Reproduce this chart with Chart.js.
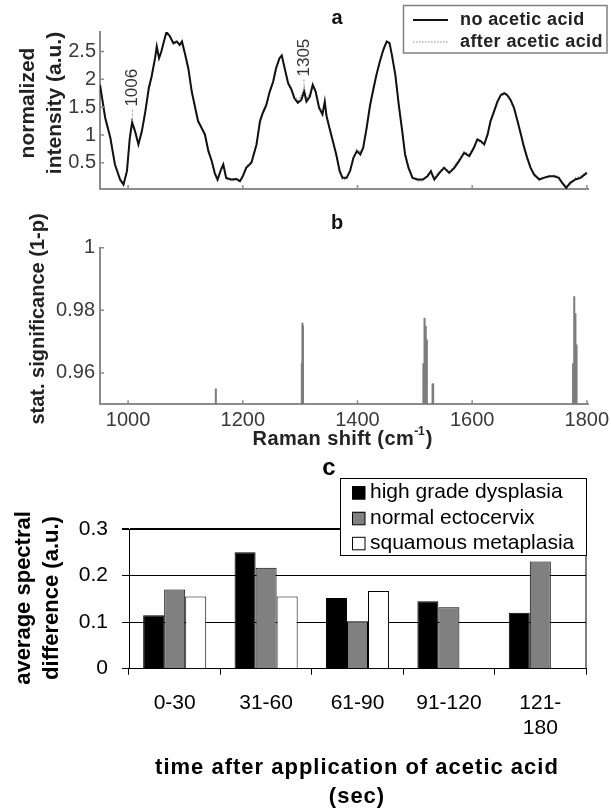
<!DOCTYPE html>
<html><head><meta charset="utf-8">
<script src="https://cdn.jsdelivr.net/npm/chart.js@4.4.1/dist/chart.umd.min.js"></script>
<style>
html,body{margin:0;padding:0;background:#fff;}
#wrap{position:relative;width:611px;height:811px;overflow:hidden;background:#fff;}
canvas{position:absolute;left:0;}
</style></head><body>
<div id="wrap">
<canvas id="ca" width="611" height="200" style="top:0;width:611px;height:200px"></canvas>
<canvas id="cb" width="611" height="250" style="top:200px;width:611px;height:250px"></canvas>
<canvas id="cc" width="611" height="361" style="top:450px;width:611px;height:361px"></canvas>
</div>
<script>
// ---------- Panel a: Raman spectra ----------
const ramanShift = [
  951, 960, 969, 977, 986, 992, 998, 1003, 1007, 1012,
  1018, 1024, 1030, 1036, 1041, 1047, 1050, 1054, 1058, 1064,
  1067, 1073, 1079, 1085, 1090, 1094, 1099, 1105, 1111, 1117,
  1122, 1128, 1134, 1140, 1146, 1151, 1156, 1162, 1166, 1171,
  1180, 1189, 1195, 1200, 1206, 1215, 1224, 1230, 1235, 1241,
  1247, 1253, 1258, 1264, 1268, 1273, 1279, 1285, 1290, 1296,
  1302, 1307, 1311, 1317, 1322, 1327, 1333, 1339, 1343, 1346,
  1351, 1357, 1363, 1369, 1374, 1381, 1387, 1393, 1399, 1405,
  1410, 1416, 1422, 1428, 1433, 1439, 1445, 1451, 1456, 1460,
  1466, 1472, 1478, 1483, 1489, 1496, 1505, 1514, 1522, 1528,
  1534, 1543, 1551, 1560, 1569, 1577, 1586, 1595, 1603, 1609,
  1615, 1621, 1627, 1632, 1638, 1644, 1650, 1656, 1661, 1667,
  1673, 1679, 1685, 1690, 1696, 1702, 1708, 1717, 1725, 1734,
  1743, 1751, 1757, 1764, 1771, 1780, 1789, 1800
];
const noAceticAcid = [
  1.90, 1.31, 0.95, 0.47, 0.20, 0.11, 0.35, 0.95, 1.22, 1.07,
  0.83, 1.07, 1.42, 1.84, 2.05, 2.38, 2.59, 2.38, 2.50, 2.74,
  2.85, 2.77, 2.65, 2.68, 2.62, 2.68, 2.47, 2.20, 1.78, 1.49,
  1.25, 1.13, 1.01, 0.71, 0.53, 0.32, 0.20, 0.38, 0.47, 0.23,
  0.20, 0.21, 0.17, 0.26, 0.41, 0.50, 0.83, 1.25, 1.40, 1.54,
  1.78, 1.96, 2.20, 2.38, 2.43, 2.20, 1.93, 1.81, 1.66, 1.58,
  1.63, 1.78, 1.60, 1.69, 1.90, 1.78, 1.49, 1.37, 1.60, 1.34,
  1.13, 0.89, 0.65, 0.35, 0.23, 0.23, 0.35, 0.59, 0.71, 0.65,
  0.77, 1.13, 1.54, 1.84, 2.08, 2.32, 2.53, 2.68, 2.65, 2.44,
  2.08, 1.54, 1.07, 0.65, 0.41, 0.23, 0.20, 0.20, 0.26, 0.35,
  0.20, 0.32, 0.41, 0.32, 0.41, 0.53, 0.68, 0.62, 0.77, 0.92,
  0.89, 0.83, 1.01, 1.25, 1.42, 1.60, 1.72, 1.75, 1.72, 1.63,
  1.49, 1.25, 1.01, 0.80, 0.59, 0.41, 0.29, 0.20, 0.23, 0.26,
  0.26, 0.23, 0.14, 0.05, 0.14, 0.20, 0.23, 0.32
];
const afterAceticAcid = [
  1.94, 1.35, 0.97, 0.50, 0.22, 0.13, 0.38, 1.00, 1.28, 1.10,
  0.85, 1.05, 1.40, 1.80, 2.03, 2.35, 2.55, 2.40, 2.52, 2.72,
  2.83, 2.78, 2.62, 2.66, 2.60, 2.65, 2.45, 2.17, 1.76, 1.47,
  1.23, 1.15, 0.98, 0.74, 0.50, 0.30, 0.16, 0.36, 0.45, 0.21,
  0.18, 0.20, 0.15, 0.24, 0.44, 0.52, 0.86, 1.22, 1.38, 1.52,
  1.76, 1.94, 2.17, 2.36, 2.40, 2.22, 1.96, 1.84, 1.70, 1.62,
  1.70, 1.86, 1.66, 1.74, 1.92, 1.80, 1.53, 1.40, 1.56, 1.38,
  1.15, 0.92, 0.62, 0.33, 0.20, 0.21, 0.37, 0.61, 0.74, 0.69,
  0.80, 1.10, 1.50, 1.80, 2.05, 2.30, 2.50, 2.66, 2.63, 2.42,
  2.10, 1.58, 1.10, 0.68, 0.43, 0.25, 0.17, 0.18, 0.29, 0.33,
  0.23, 0.35, 0.43, 0.34, 0.44, 0.56, 0.70, 0.66, 0.79, 0.90,
  0.86, 0.86, 1.04, 1.22, 1.40, 1.57, 1.70, 1.73, 1.71, 1.60,
  1.46, 1.28, 1.04, 0.77, 0.56, 0.39, 0.27, 0.22, 0.25, 0.24,
  0.28, 0.25, 0.16, 0.08, 0.11, 0.23, 0.26, 0.34
];
const intensityTicks = [0.5, 1, 1.5, 2, 2.5];
const shiftTicks = [1000, 1200, 1400, 1600, 1800];
const annotShift = [1006, 1305];
const annotLabel = ['1006', '1305'];
const annotLevel = [1.85, 2.39];

// ---------- Panel b: statistical significance ----------
const sigShift = [1153, 1303, 1304, 1305, 1515, 1517, 1519, 1521, 1531, 1532, 1776, 1778, 1780, 1782];
const sigValue = [0.9549, 0.963, 0.9759, 0.975, 0.963, 0.9775, 0.975, 0.9706, 0.9565, 0.9565, 0.963, 0.9844, 0.979, 0.969];
const sigTicks = [0.96, 0.98, 1];

// ---------- Panel c: average spectral difference ----------
const timeLabels = ['0-30', '31-60', '61-90', '91-120', ['121-', '180']];
const highGradeDysplasia = [0.115, 0.25, 0.152, 0.145, 0.12];
const normalEctocervix = [0.17, 0.217, 0.102, 0.132, 0.23];
const squamousMetaplasia = [0.155, 0.155, 0.167, null, null];
const diffTicks = [0, 0.1, 0.2, 0.3];

const FF = "'Liberation Sans', Arial, Helvetica, sans-serif";
Chart.defaults.font.family = FF;
Chart.defaults.color = '#333';
Chart.defaults.animation = false;

function drawText(ctx, s, x, y, o) {
  ctx.save();
  ctx.font = o.font; ctx.fillStyle = o.color || '#111';
  ctx.textAlign = o.align || 'center'; ctx.textBaseline = 'middle';
  if ('letterSpacing' in ctx) ctx.letterSpacing = o.ls || '0px';
  ctx.translate(x, y);
  if (o.rot) ctx.rotate(o.rot);
  ctx.fillText(s, 0, 0);
  ctx.restore();
}
function seg(ctx, x1, y1, x2, y2, color, w, dash) {
  ctx.save(); ctx.strokeStyle = color; ctx.lineWidth = w;
  ctx.setLineDash(dash || []);
  ctx.beginPath(); ctx.moveTo(x1, y1); ctx.lineTo(x2, y2); ctx.stroke(); ctx.restore();
}
function insideTicks(chart, xVals, yVals, len, color, w) {
  const {ctx, chartArea: a, scales: {x, y}} = chart;
  ctx.save(); ctx.strokeStyle = color; ctx.lineWidth = w; ctx.beginPath();
  xVals.forEach(v => { const p = x.getPixelForValue(v); ctx.moveTo(p, a.bottom); ctx.lineTo(p, a.bottom - len); });
  yVals.forEach(v => { const p = y.getPixelForValue(v); ctx.moveTo(a.left, p); ctx.lineTo(a.left + len, p); });
  ctx.stroke(); ctx.restore();
}
const ROT = -Math.PI / 2;
const noPadV = s => { s.paddingTop = 0; s.paddingBottom = 0; };
const noPadH = s => { s.paddingLeft = 0; s.paddingRight = 0; };

// ---------- Chart a ----------
new Chart(document.getElementById('ca'), {
  type: 'line',
  data: { datasets: [
    { label: 'no acetic acid', data: ramanShift.map((v, i) => ({x: v, y: noAceticAcid[i]})),
      borderColor: '#111', borderWidth: 2, pointRadius: 0, tension: 0 },
    { label: 'after acetic acid', data: ramanShift.map((v, i) => ({x: v, y: afterAceticAcid[i]})),
      borderColor: '#8a8a8a', borderWidth: 1.2, borderDash: [1.5, 1.5], pointRadius: 0, tension: 0 }
  ]},
  options: {
    responsive: false, animation: false, events: [],
    layout: { padding: { top: 32, right: 23, left: 0, bottom: 0 } },
    plugins: { legend: { display: false }, tooltip: { enabled: false } },
    scales: {
      x: { type: 'linear', min: 951, max: 1802, grid: { display: false, drawTicks: false },
           border: { display: true, color: '#8c8c8c', width: 2 },
           ticks: { display: false },
           afterFit: s => { s.height = 11; noPadH(s); } },
      y: { type: 'linear', min: 0.03, max: 2.85, grid: { display: false, drawTicks: false },
           border: { display: true, color: '#8c8c8c', width: 2 },
           afterBuildTicks: s => { s.ticks = intensityTicks.map(v => ({value: v})); },
           ticks: { padding: 4, color: '#3a3a3a', font: { size: 20 }, callback: v => String(v) },
           afterFit: s => { s.width = 100; noPadV(s); } }
    }
  },
  plugins: [{
    id: 'decorA',
    afterDraw(chart) {
      const ctx = chart.ctx, x = chart.scales.x, y = chart.scales.y;
      insideTicks(chart, shiftTicks, intensityTicks, 4, '#8c8c8c', 1.5);
      annotShift.forEach((s, i) => {
        const px = x.getPixelForValue(s) + 1, py = y.getPixelForValue(annotLevel[i]);
        drawText(ctx, annotLabel[i], px, py, { font: '17px ' + FF, color: '#333', rot: ROT });
        seg(ctx, px, py + 22, px, py + 34, '#999', 1, [2, 2]);
      });
      // legend
      ctx.save(); ctx.fillStyle = '#fff'; ctx.fillRect(403, 5, 204, 48);
      ctx.strokeStyle = '#808080'; ctx.lineWidth = 1.5; ctx.strokeRect(403.5, 5.5, 203.5, 47.5); ctx.restore();
      seg(ctx, 413, 20, 448, 20, '#111', 2);
      seg(ctx, 413, 42, 448, 42, '#8a8a8a', 1.2, [1.5, 1.5]);
      drawText(ctx, 'no acetic acid', 460, 20, { font: 'bold 18px ' + FF, color: '#222', align: 'left', ls: '0.4px' });
      drawText(ctx, 'after acetic acid', 460, 42, { font: 'bold 18px ' + FF, color: '#222', align: 'left', ls: '0.4px' });
      drawText(ctx, 'a', 337, 18, { font: 'bold 20px ' + FF, color: '#111' });
      drawText(ctx, 'normalized', 28, 103, { font: 'bold 21px ' + FF, color: '#222', rot: ROT });
      drawText(ctx, 'intensity (a.u.)', 55, 103, { font: 'bold 21px ' + FF, color: '#222', rot: ROT });
    }
  }]
});

// ---------- Chart b ----------
new Chart(document.getElementById('cb'), {
  type: 'bar',
  data: { datasets: [
    { label: 'stat. significance', data: sigShift.map((v, i) => ({x: v, y: sigValue[i]})),
      backgroundColor: '#7d7d7d', borderWidth: 0, barThickness: 1.4 }
  ]},
  options: {
    responsive: false, animation: false, events: [],
    layout: { padding: { top: 47.7, right: 23, left: 0, bottom: 0 } },
    plugins: { legend: { display: false }, tooltip: { enabled: false } },
    scales: {
      x: { type: 'linear', min: 951, max: 1802, offset: false, grid: { display: false, offset: false, drawTicks: false },
           border: { display: true, color: '#8c8c8c', width: 2 },
           afterBuildTicks: s => { s.ticks = shiftTicks.map(v => ({value: v})); },
           ticks: { padding: 4, color: '#3a3a3a', font: { size: 20 }, maxRotation: 0, autoSkip: false, callback: v => String(v) },
           afterFit: s => { s.height = 45.7; noPadH(s); } },
      y: { type: 'linear', min: 0.95, max: 1, grid: { display: false, drawTicks: false },
           border: { display: true, color: '#8c8c8c', width: 2 },
           afterBuildTicks: s => { s.ticks = sigTicks.map(v => ({value: v})); },
           ticks: { padding: 5, color: '#3a3a3a', font: { size: 20 }, callback: v => String(v) },
           afterFit: s => { s.width = 100; noPadV(s); } }
    }
  },
  plugins: [{
    id: 'decorB',
    afterDraw(chart) {
      const ctx = chart.ctx;
      insideTicks(chart, shiftTicks, sigTicks, 4, '#8c8c8c', 1.5);
      drawText(ctx, 'b', 337, 23, { font: 'bold 20px ' + FF, color: '#111' });
      drawText(ctx, 'stat. significance (1-p)', 38, 119, { font: 'bold 20px ' + FF, color: '#222', rot: ROT });
      // x title with superscript
      ctx.save();
      const f1 = 'bold 20px ' + FF, f2 = 'bold 12px ' + FF;
      ctx.font = f1; const w1 = ctx.measureText('Raman shift (cm').width + 6, w3 = ctx.measureText(')').width;
      ctx.font = f2; const w2 = ctx.measureText('-1').width;
      ctx.restore();
      const x0 = 342 - (w1 + w2 + w3) / 2;
      drawText(ctx, 'Raman shift (cm', x0, 239, { font: f1, color: '#222', align: 'left', ls: '0.4px' });
      drawText(ctx, '-1', x0 + w1, 232, { font: f2, color: '#222', align: 'left' });
      drawText(ctx, ')', x0 + w1 + w2 + 1, 239, { font: f1, color: '#222', align: 'left' });
    }
  }]
});

// ---------- Chart c ----------
new Chart(document.getElementById('cc'), {
  type: 'bar',
  data: { labels: timeLabels, datasets: [
    { label: 'high grade dysplasia', data: highGradeDysplasia, backgroundColor: '#000', borderColor: '#000', borderWidth: 1 },
    { label: 'normal ectocervix', data: normalEctocervix, backgroundColor: '#808080', borderColor: '#000', borderWidth: 1 },
    { label: 'squamous metaplasia', data: squamousMetaplasia, backgroundColor: '#fff', borderColor: '#000', borderWidth: 1 }
  ]},
  options: {
    responsive: false, animation: false, events: [],
    datasets: { bar: { categoryPercentage: 0.69, barPercentage: 1 } },
    layout: { padding: { top: 79, right: 25, left: 0, bottom: 0 } },
    plugins: { legend: { display: false }, tooltip: { enabled: false } },
    scales: {
      x: { grid: { display: true, drawOnChartArea: false, offset: true, tickLength: 6, color: '#000', lineWidth: 1 },
           border: { display: true, color: '#000', width: 1 },
           ticks: { padding: 16, color: '#000', font: { size: 21, lineHeight: 1.2 }, maxRotation: 0, autoSkip: false },
           afterFit: s => { s.height = 142.3; noPadH(s); } },
      y: { min: 0, max: 0.3,
           afterBuildTicks: s => { s.ticks = diffTicks.map(v => ({value: v})); },
           grid: { color: '#000', lineWidth: c => (c.tick && c.tick.value === 0.3) ? 2 : 1, tickLength: 7 },
           border: { display: true, color: '#000', width: 1 },
           ticks: { padding: 14, color: '#000', font: { size: 21 }, callback: v => String(v) },
           afterFit: s => { s.width = 129; noPadV(s); } }
    }
  },
  plugins: [{
    id: 'decorC',
    afterDraw(chart) {
      const ctx = chart.ctx, a = chart.chartArea;
      seg(ctx, a.right, a.top, a.right, a.bottom, '#000', 1);
      // legend
      ctx.save(); ctx.fillStyle = '#fff'; ctx.fillRect(340, 28, 246, 77);
      ctx.strokeStyle = '#000'; ctx.lineWidth = 1; ctx.strokeRect(340.5, 28.5, 246, 77); ctx.restore();
      const names = chart.data.datasets.map(d => d.label);
      const fills = chart.data.datasets.map(d => d.backgroundColor);
      const rows = [42.7, 68.3, 93.3];
      names.forEach((n, i) => {
        ctx.save(); ctx.fillStyle = fills[i]; ctx.fillRect(352, rows[i] - 6.5, 13, 13);
        ctx.strokeStyle = '#000'; ctx.lineWidth = 1; ctx.strokeRect(352.5, rows[i] - 6, 12.5, 12.5); ctx.restore();
        drawText(ctx, n, 370, rows[i], { font: '21px ' + FF, color: '#000', align: 'left' });
      });
      drawText(ctx, 'c', 329, 18, { font: 'bold 24px ' + FF, color: '#000' });
      drawText(ctx, 'time after application of acetic acid', 357, 318, { font: 'bold 22px ' + FF, color: '#000', ls: '1px' });
      drawText(ctx, '(sec)', 357, 347, { font: 'bold 22px ' + FF, color: '#000', ls: '1px' });
      drawText(ctx, 'average spectral', 24, 148, { font: 'bold 22px ' + FF, color: '#000', rot: ROT });
      drawText(ctx, 'difference (a.u.)', 52, 148, { font: 'bold 22px ' + FF, color: '#000', rot: ROT });
    }
  }]
});
</script>
</body></html>
